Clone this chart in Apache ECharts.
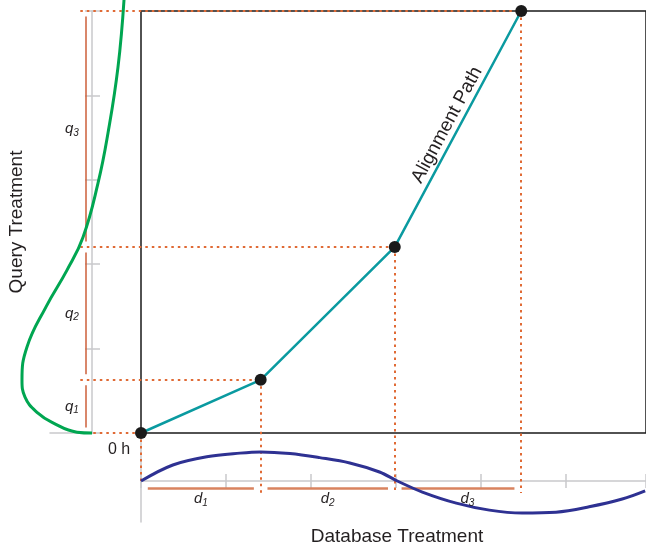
<!DOCTYPE html>
<html><head><meta charset="utf-8">
<script src="https://cdn.jsdelivr.net/npm/echarts@6/dist/echarts.min.js"></script>
<style>html,body{margin:0;padding:0;background:#fff}#c{width:646px;height:548px}</style>
</head><body><div id="c"></div>
<script>
// ---- data ----
const pathX = [0, 2.82, 5.98, 8.96];          // database treatment time of matched points
const pathY = [0, 1.26, 4.41, 10];            // query treatment time of matched points
const dNames = ['1', '2', '3'];
const qNames = ['1', '2', '3'];
const databaseCurve = [[0,0],[0.75,0.39],[1.55,0.59],[2.33,0.68],[2.82,0.71],[3.51,0.67],[4.21,0.57],[4.92,0.44],[5.62,0.22],[6.04,0],[6.63,-0.27],[7.43,-0.54],[8.21,-0.71],[8.98,-0.78],[9.78,-0.76],[10.56,-0.63],[11.34,-0.44],[11.88,-0.24]];
const queryCurve = [[-0.762,10.26],[-0.619,8.67],[-0.381,7.11],[-0.143,5.92],[0.214,4.64],[0.595,3.86],[1.095,2.99],[1.548,2.04],[1.667,1.26],[1.595,0.85],[1.286,0.47],[0.929,0.24],[0.357,0.02],[0,0]];
const xMax = 11.9, yMax = 10, tickStep = 2;

// ---- styles ----
const FONT = 'Liberation Sans, Arial, Helvetica, sans-serif';
const GRAY = '#c9c9cb';
const RED = '#e06a35';
const TXT = '#231f20';
const hStart = -1.43, vEnd = -1.42, vEndFirst = -1.14;
const dY = -0.17, dGap = 0.16, dLabelY = -0.44, dLabelShift = 0.22;
const qX = 0.143, qGap = 0.13, qLabelX = 0.48;

const guides = [];
pathX.forEach((x, i) => {
  guides.push({ coords: [[hStart, pathY[i]], [x, pathY[i]]] });
  guides.push({ coords: [[x, pathY[i]], [x, i === 0 ? vEndFirst : vEnd]] });
});
const dSegs = [], qSegs = [], dLabels = [], qLabels = [];
for (let i = 0; i < pathX.length - 1; i++) {
  dSegs.push({ coords: [[pathX[i] + dGap, dY], [pathX[i + 1] - dGap, dY]] });
  qSegs.push({ coords: [[qX, pathY[i] + qGap], [qX, pathY[i + 1] - qGap]] });
  dLabels.push({ value: [(pathX[i] + pathX[i + 1]) / 2 + (i === 2 ? dLabelShift : 0), dLabelY], name: 'd', sub: dNames[i] });
  qLabels.push({ value: [qLabelX, (pathY[i] + pathY[i + 1]) / 2], name: 'q', sub: qNames[i] });
}
const richSub = {
  v: { fontFamily: FONT, fontStyle: 'italic', fontSize: 15, color: TXT, lineHeight: 18, verticalAlign: 'middle' },
  s: { fontFamily: FONT, fontStyle: 'italic', fontSize: 10, color: TXT, lineHeight: 18, verticalAlign: 'bottom' }
};
const hidden = { show: false };
const labelSeries = (xi, yi, data) => ({
  type: 'scatter', xAxisIndex: xi, yAxisIndex: yi, data: data, symbolSize: 1, clip: false, z: 12,
  itemStyle: { color: 'rgba(0,0,0,0)' },
  label: { show: true, position: 'inside', color: TXT, opacity: 1,
           formatter: p => '{v|' + p.data.name + '}{s|' + p.data.sub + '}', rich: richSub }
});

const chart = echarts.init(document.getElementById('c'));
chart.setOption({
  animation: false,
  backgroundColor: '#fff',
  grid: [
    { left: 141, top: 11, width: 506, height: 422, show: true, borderColor: '#1a1a1a', borderWidth: 1.5, backgroundColor: 'transparent' },
    { left: 141, top: 440, width: 506, height: 82 },
    { left: 50, top: 11, width: 42, height: 422 },
    { left: 0, top: 0, width: 141, height: 433 }
  ],
  xAxis: [
    { gridIndex: 0, type: 'value', min: 0, max: xMax, show: false },
    { gridIndex: 1, type: 'value', min: 0, max: xMax, interval: tickStep,
      axisLine: { show: true, onZero: true, onZeroAxisIndex: 1, lineStyle: { color: GRAY, width: 1.5 } },
      axisTick: { show: true, length: 7, lineStyle: { color: GRAY, width: 1.5 } },
      axisLabel: hidden, splitLine: hidden },
    { gridIndex: 1, type: 'value', min: 0, max: xMax, interval: tickStep, position: 'bottom',
      axisLine: { show: false, onZero: true, onZeroAxisIndex: 1 },
      axisTick: { show: true, inside: true, length: 7, lineStyle: { color: GRAY, width: 1.5 } },
      axisLabel: hidden, splitLine: hidden },
    { gridIndex: 2, type: 'value', min: 0, max: 1, inverse: true,
      axisLine: { show: true, onZero: true, onZeroAxisIndex: 2, lineStyle: { color: GRAY, width: 1.5 } },
      axisTick: hidden, axisLabel: hidden, splitLine: hidden },
    { gridIndex: 3, type: 'value', min: -49 / 42, max: 92 / 42, inverse: true, show: false }
  ],
  yAxis: [
    { gridIndex: 0, type: 'value', min: 0, max: yMax, show: false },
    { gridIndex: 1, type: 'value', min: -1, max: 1,
      axisLine: { show: true, onZero: true, onZeroAxisIndex: 1, lineStyle: { color: GRAY, width: 1.5 } },
      axisTick: hidden, axisLabel: hidden, splitLine: hidden },
    { gridIndex: 2, type: 'value', min: 0, max: yMax, interval: tickStep, position: 'left',
      axisLine: { show: true, onZero: true, onZeroAxisIndex: 3, lineStyle: { color: GRAY, width: 1.5 } },
      axisTick: { show: true, length: 7, lineStyle: { color: GRAY, width: 1.5 } },
      axisLabel: hidden, splitLine: hidden },
    { gridIndex: 2, type: 'value', min: 0, max: yMax, interval: tickStep, position: 'left',
      axisLine: { show: false, onZero: true, onZeroAxisIndex: 3 },
      axisTick: { show: true, inside: true, length: 8, lineStyle: { color: GRAY, width: 1.5 } },
      axisLabel: hidden, splitLine: hidden },
    { gridIndex: 3, type: 'value', min: 0, max: 433 / 42.2, show: false }
  ],
  series: [
    { type: 'lines', coordinateSystem: 'cartesian2d', xAxisIndex: 0, yAxisIndex: 0, clip: false, z: 5,
      data: guides, lineStyle: { color: RED, width: 2, type: [2.5, 4], opacity: 1 } },
    { type: 'lines', coordinateSystem: 'cartesian2d', xAxisIndex: 1, yAxisIndex: 1, clip: false, z: 4,
      data: dSegs, lineStyle: { color: '#d9835f', width: 2.5, opacity: 1 } },
    { type: 'lines', coordinateSystem: 'cartesian2d', xAxisIndex: 3, yAxisIndex: 2, clip: false, z: 4,
      data: qSegs, lineStyle: { color: '#cc5f3a', width: 1.5, opacity: 1 } },
    { type: 'line', xAxisIndex: 1, yAxisIndex: 1, data: databaseCurve, smooth: 0.35, showSymbol: false, symbol: 'none',
      clip: false, z: 6, lineStyle: { color: '#2e3192', width: 3 } },
    { type: 'line', xAxisIndex: 4, yAxisIndex: 4, data: queryCurve, smooth: 0.45, showSymbol: false, symbol: 'none',
      clip: false, z: 6, lineStyle: { color: '#00a651', width: 3 } },
    { type: 'line', xAxisIndex: 0, yAxisIndex: 0, data: pathX.map((x, i) => [x, pathY[i]]), clip: false, z: 10,
      symbol: 'circle', symbolSize: 12, itemStyle: { color: '#1a1a1a' },
      lineStyle: { color: '#0a9aa0', width: 2.5 } },
    labelSeries(1, 1, dLabels),
    labelSeries(3, 2, qLabels)
  ],
  graphic: [
    { type: 'text', x: 17, y: 222, rotation: Math.PI / 2,
      style: { text: 'Query Treatment', font: '19px ' + FONT, fill: TXT, align: 'center', verticalAlign: 'middle' } },
    { type: 'text', x: 397, y: 537,
      style: { text: 'Database Treatment', font: '19px ' + FONT, fill: TXT, align: 'center', verticalAlign: 'middle' } },
    { type: 'text', x: 119, y: 450,
      style: { text: '0 h', font: '16px ' + FONT, fill: TXT, align: 'center', verticalAlign: 'middle' } },
    { type: 'text', x: 447, y: 125, rotation: Math.atan2(236, 127),
      style: { text: 'Alignment Path', font: '19px ' + FONT, fill: TXT, align: 'center', verticalAlign: 'middle' } }
  ]
});
</script></body></html>
